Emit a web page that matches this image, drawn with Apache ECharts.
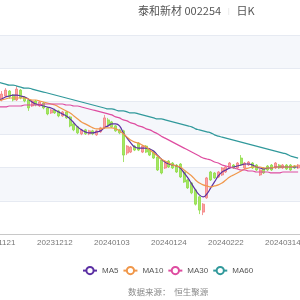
<!DOCTYPE html>
<html>
<head>
<meta charset="utf-8">
<script src="https://cdn.jsdelivr.net/npm/echarts@6/dist/echarts.min.js"></script>
<style>
  html, body { margin: 0; padding: 0; background: #fff; }
  #chart { width: 300px; height: 300px; }
</style>
</head>
<body>
<div id="chart"></div>
<script>
// 交易日
const dates = [
  "20231121", "20231122", "20231123", "20231124", "20231127", "20231128", "20231129", "20231130",
  "20231201", "20231204", "20231205", "20231206", "20231207", "20231208", "20231211", "20231212",
  "20231213", "20231214", "20231215", "20231218", "20231219", "20231220", "20231221", "20231222",
  "20231225", "20231226", "20231227", "20231228", "20231229", "20240102", "20240103",
  "20240104", "20240105", "20240108", "20240109", "20240110", "20240111", "20240112", "20240115",
  "20240116", "20240117", "20240118", "20240119", "20240122", "20240123", "20240124",
  "20240125", "20240126", "20240129", "20240130", "20240131", "20240201", "20240202", "20240205",
  "20240206", "20240207", "20240208", "20240219", "20240220", "20240221", "20240222",
  "20240223", "20240226", "20240227", "20240228", "20240229", "20240301", "20240304", "20240305",
  "20240306", "20240307", "20240308", "20240311", "20240312", "20240313", "20240314",
  "20240315", "20240318", "20240319", "20240320"
]

// [开, 收, 低, 高]
const kData = [
  [11.19, 11.04, 10.98, 11.25], [11.04, 11.22, 11.00, 11.31], [11.16, 11.34, 11.13, 11.40], [11.31, 11.13, 11.08, 11.34],
  [11.19, 11.04, 11.00, 11.22], [11.04, 11.37, 11.01, 11.46], [11.34, 11.10, 11.06, 11.37], [11.13, 11.01, 10.97, 11.16],
  [11.04, 10.80, 10.71, 11.07], [10.86, 11.01, 10.83, 11.04], [11.01, 10.89, 10.85, 11.04], [10.86, 10.98, 10.83, 11.01],
  [10.95, 10.80, 10.76, 10.98], [10.80, 10.62, 10.58, 10.83], [10.65, 10.74, 10.62, 10.77], [10.74, 10.65, 10.62, 10.78],
  [10.71, 10.56, 10.52, 10.74], [10.56, 10.68, 10.53, 10.71], [10.68, 10.50, 10.47, 10.71], [10.53, 10.26, 10.22, 10.56],
  [10.32, 10.14, 10.10, 10.35], [10.23, 10.05, 10.01, 10.26], [10.02, 10.14, 9.98, 10.17], [10.14, 10.02, 9.99, 10.17],
  [10.02, 10.11, 9.98, 10.14], [10.11, 10.02, 9.98, 10.14], [9.99, 10.11, 9.96, 10.14], [10.08, 10.20, 10.05, 10.23],
  [10.20, 10.50, 10.17, 10.59], [10.44, 10.29, 10.26, 10.50], [10.38, 10.23, 10.20, 10.41], [10.26, 10.11, 10.08, 10.29],
  [10.14, 10.05, 10.01, 10.17], [10.11, 9.38, 9.17, 10.14], [9.44, 9.65, 9.38, 9.68], [9.47, 9.62, 9.44, 9.65],
  [9.65, 9.53, 9.50, 9.68], [9.74, 9.53, 9.50, 9.77], [9.47, 9.65, 9.44, 9.68], [9.65, 9.47, 9.44, 9.68],
  [9.56, 9.38, 9.35, 9.59], [9.47, 9.29, 9.26, 9.50], [9.32, 8.93, 8.90, 9.35], [9.23, 8.84, 8.80, 9.26],
  [8.99, 9.14, 8.96, 9.17], [9.20, 9.02, 8.99, 9.23], [9.14, 8.99, 8.96, 9.17], [9.08, 8.87, 8.84, 9.11],
  [9.11, 8.72, 8.69, 9.14], [8.87, 8.57, 8.54, 8.90], [8.63, 8.39, 8.36, 8.66], [8.54, 8.24, 8.20, 8.57],
  [8.33, 7.90, 7.86, 8.36], [8.12, 7.72, 7.60, 8.15], [7.66, 7.90, 7.57, 7.93], [8.09, 8.69, 8.06, 8.72],
  [8.87, 8.63, 8.60, 8.90], [8.84, 8.69, 8.66, 8.87], [8.72, 8.87, 8.69, 8.90], [8.78, 8.99, 8.75, 9.02],
  [8.87, 9.02, 8.84, 9.05], [8.99, 9.14, 8.96, 9.17], [9.08, 8.99, 8.96, 9.11], [8.99, 9.14, 8.96, 9.17],
  [9.29, 9.08, 9.05, 9.38], [8.99, 9.14, 8.96, 9.17], [9.08, 9.17, 9.05, 9.20], [9.14, 8.99, 8.96, 9.17],
  [9.08, 8.93, 8.90, 9.11], [8.78, 8.93, 8.75, 8.96], [8.99, 8.84, 8.81, 9.02], [9.05, 8.93, 8.90, 9.08],
  [9.08, 8.93, 8.90, 9.11], [8.99, 9.14, 8.96, 9.17], [9.08, 8.99, 8.96, 9.11], [8.99, 9.08, 8.96, 9.11],
  [9.08, 8.96, 8.93, 9.11], [9.08, 8.93, 8.90, 9.11], [9.05, 8.99, 8.96, 9.08], [8.99, 9.08, 8.96, 9.11]
]

const ma5 = [
  11.04, 11.07, 11.13, 11.16, 11.19, 11.19, 11.16, 11.13, 11.07, 10.98,
  10.92, 10.89, 10.86, 10.83, 10.80, 10.74, 10.68, 10.62, 10.56, 10.47,
  10.35, 10.23, 10.14, 10.08, 10.05, 10.05, 10.08, 10.11, 10.20, 10.26,
  10.32, 10.32, 10.26, 10.05, 9.89, 9.74, 9.62, 9.59, 9.59, 9.59,
  9.56, 9.50, 9.38, 9.26, 9.17, 9.11, 9.08, 9.05, 8.99, 8.84,
  8.69, 8.51, 8.33, 8.18, 8.12, 8.21, 8.39, 8.57, 8.75, 8.87,
  8.93, 8.99, 9.02, 9.05, 9.08, 9.11, 9.11, 9.08, 9.02, 8.99,
  8.96, 8.99, 8.99, 9.02, 9.02, 9.02, 9.02, 9.02, 9.02, 9.02
]
const ma10 = [
  11.01, 11.04, 11.07, 11.10, 11.10, 11.10, 11.10, 11.10, 11.07, 11.04,
  11.04, 11.01, 10.98, 10.95, 10.92, 10.89, 10.83, 10.77, 10.71, 10.65,
  10.56, 10.47, 10.38, 10.32, 10.26, 10.20, 10.17, 10.17, 10.20, 10.20,
  10.20, 10.17, 10.11, 10.02, 9.92, 9.83, 9.77, 9.74, 9.68, 9.62,
  9.53, 9.44, 9.35, 9.26, 9.20, 9.14, 9.08, 9.05, 9.02, 8.93,
  8.84, 8.75, 8.63, 8.54, 8.48, 8.45, 8.42, 8.45, 8.48, 8.54,
  8.63, 8.72, 8.78, 8.84, 8.90, 8.96, 8.99, 9.02, 9.02, 9.02,
  8.99, 8.99, 8.99, 9.02, 9.02, 9.02, 9.02, 9.02, 9.05, 9.05
]
const ma30 = [
  10.83, 10.83, 10.83, 10.86, 10.86, 10.86, 10.86, 10.89, 10.89, 10.89,
  10.89, 10.89, 10.92, 10.92, 10.92, 10.92, 10.92, 10.92, 10.89, 10.89,
  10.86, 10.86, 10.83, 10.80, 10.77, 10.74, 10.71, 10.68, 10.65, 10.62,
  10.59, 10.53, 10.50, 10.44, 10.41, 10.35, 10.32, 10.26, 10.23, 10.17,
  10.14, 10.08, 10.02, 9.95, 9.89, 9.83, 9.77, 9.71, 9.65, 9.59,
  9.53, 9.47, 9.41, 9.35, 9.29, 9.26, 9.23, 9.17, 9.14, 9.08,
  9.05, 9.02, 8.99, 8.96, 8.93, 8.93, 8.90, 8.90, 8.87, 8.87,
  8.87, 8.87, 8.84, 8.84, 8.84, 8.87, 8.87, 8.87, 8.87, 8.87
]
const ma60 = [
  11.58, 11.55, 11.52, 11.49, 11.49, 11.46, 11.43, 11.40, 11.40, 11.37,
  11.34, 11.31, 11.28, 11.25, 11.22, 11.19, 11.16, 11.13, 11.10, 11.07,
  11.04, 11.01, 10.98, 10.95, 10.92, 10.89, 10.86, 10.83, 10.80, 10.77,
  10.77, 10.74, 10.71, 10.71, 10.68, 10.65, 10.65, 10.62, 10.59, 10.56,
  10.53, 10.50, 10.47, 10.47, 10.44, 10.41, 10.38, 10.35, 10.32, 10.29,
  10.26, 10.23, 10.17, 10.14, 10.11, 10.08, 10.05, 9.99, 9.95, 9.92,
  9.89, 9.86, 9.83, 9.80, 9.77, 9.74, 9.71, 9.68, 9.65, 9.62,
  9.59, 9.56, 9.53, 9.50, 9.47, 9.44, 9.41, 9.35, 9.32, 9.29
]

const maNames = ["MA5", "MA10", "MA30", "MA60"]
const maColors = ["#5b2fa3", "#f0974a", "#de4ca0", "#31999b"]
const maData = [ma5, ma10, ma30, ma60]

const chart = echarts.init(document.getElementById("chart"))

const lineSeries = maNames.map((name, i) => ({
  name: name,
  type: "line",
  data: maData[i],
  symbol: "emptyCircle",
  showSymbol: false,
  smooth: true,
  lineStyle: { width: 1.2, color: maColors[i] },
  itemStyle: { color: maColors[i] }
}))

chart.setOption({
  animation: false,
  title: [
    {
      left: 133,
      top: 0,
      text: "{a|泰和新材 002254}{s|   |   }{a|日K}",
      textStyle: {
        fontWeight: "normal",
        rich: {
          a: { fontSize: 11, color: "#555", fontWeight: "normal", fontFamily: "Noto Sans CJK SC" },
          s: { fontSize: 8, color: "#e3e3e3", fontWeight: "normal" }
        }
      }
    },
    {
      left: 123,
      top: 283,
      text: "数据来源：  恒生聚源",
      textStyle: { fontSize: 8.5, fontWeight: "normal", color: "#888", fontFamily: "Noto Sans CJK SC" }
    }
  ],
  legend: {
    data: maNames,
    left: 77,
    top: 261,
    itemWidth: 14,
    itemHeight: 9,
    itemGap: 4,
    textStyle: { fontSize: 8, color: "#555" }
  },
  grid: { left: -4, right: 0, top: 35, bottom: 66, outerBoundsMode: "none" },
  xAxis: {
    type: "category",
    data: dates,
    boundaryGap: true,
    axisLine: { lineStyle: { color: "#c8c8c8" } },
    axisTick: { interval: 14, alignWithLabel: true, length: 3, lineStyle: { color: "#c8c8c8" } },
    axisLabel: { interval: 14, color: "#777", fontSize: 8, margin: 5 },
    splitLine: { show: false }
  },
  yAxis: {
    type: "value",
    min: 7,
    max: 13,
    interval: 1,
    axisLabel: { show: false },
    axisLine: { show: false },
    axisTick: { show: false },
    splitLine: { lineStyle: { color: "#e6eaf2" } },
    splitArea: { show: true, areaStyle: { color: ["#ffffff", "#f5f7fb"] } }
  },
  series: [
    {
      name: "日K",
      type: "candlestick",
      data: kData,
      barWidth: "65%",
      itemStyle: {
        color: "#f9a3a3",
        color0: "#a5e663",
        borderColor: "#f47c7c",
        borderColor0: "#8edc45",
        borderWidth: 0.8
      }
    }
  ].concat(lineSeries)
})
</script>
</body>
</html>
